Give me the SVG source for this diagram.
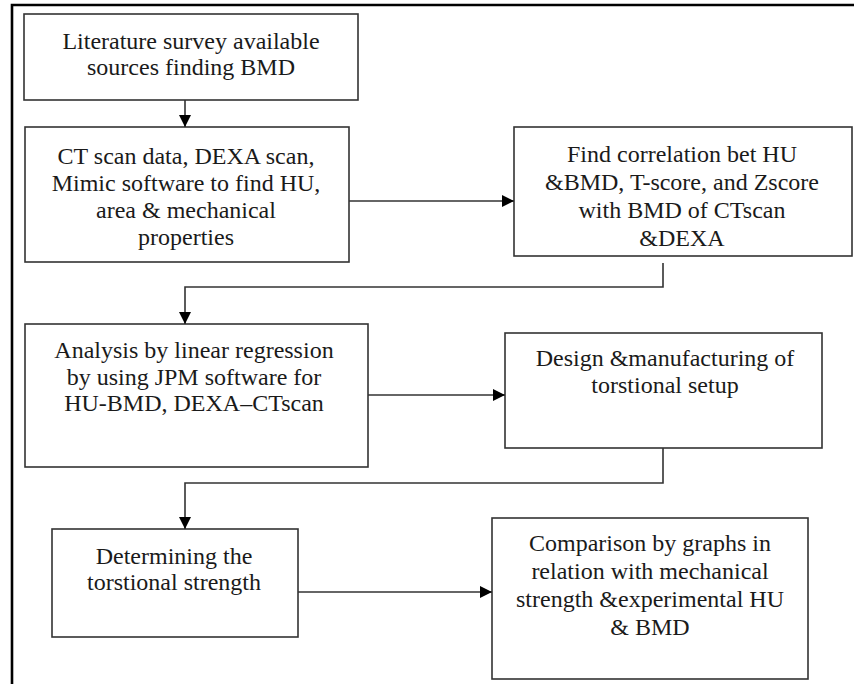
<svg xmlns="http://www.w3.org/2000/svg" width="854" height="684" viewBox="0 0 854 684">
<style>
.box{fill:#fff;stroke:#333;stroke-width:1.6}
.t{font-family:"Liberation Serif","Times New Roman",serif;font-size:24px;fill:#1a1a1a;text-anchor:middle}
.c{fill:none;stroke:#333;stroke-width:1.6}
.frame{stroke:#000;stroke-width:2.6;fill:none}
</style>
<defs>
<marker id="ah" viewBox="0 0 12 12" refX="12" refY="6" markerWidth="12" markerHeight="12" markerUnits="userSpaceOnUse" orient="auto">
<path d="M0,0 L12,6 L0,12 Z" fill="#000"/>
</marker>
</defs>
<rect width="854" height="684" fill="#fff"/>
<path class="frame" d="M12,684 V5 H854"/>
<g id="n1">
<rect class="box" x="24" y="14" width="334" height="86"/>
<text class="t" x="191" y="48.5">Literature survey available</text>
<text class="t" x="191" y="74.5">sources finding BMD</text>
</g>
<g id="n2">
<rect class="box" x="25" y="127" width="324" height="135"/>
<text class="t" x="186" y="164">CT scan data, DEXA scan,</text>
<text class="t" x="186" y="191">Mimic software to find HU,</text>
<text class="t" x="186" y="218">area &amp; mechanical</text>
<text class="t" x="186" y="245">properties</text>
</g>
<g id="n3">
<rect class="box" x="514" y="127" width="338" height="129"/>
<text class="t" x="682" y="162">Find correlation bet HU</text>
<text class="t" x="682" y="190">&amp;BMD, T-score, and Zscore</text>
<text class="t" x="682" y="218">with BMD of CTscan</text>
<text class="t" x="682" y="246">&amp;DEXA</text>
</g>
<g id="n4">
<rect class="box" x="25" y="324" width="343" height="143"/>
<text class="t" x="194" y="358">Analysis by linear regression</text>
<text class="t" x="194" y="384.5">by using JPM software for</text>
<text class="t" x="194" y="411">HU-BMD, DEXA–CTscan</text>
</g>
<g id="n5">
<rect class="box" x="505" y="333" width="317" height="115"/>
<text class="t" x="665" y="366">Design &amp;manufacturing of</text>
<text class="t" x="665" y="393">torstional setup</text>
</g>
<g id="n6">
<rect class="box" x="52" y="529" width="246" height="108"/>
<text class="t" x="174" y="564">Determining the</text>
<text class="t" x="174" y="590">torstional strength</text>
</g>
<g id="n7">
<rect class="box" x="492" y="518" width="316" height="161"/>
<text class="t" x="650" y="551">Comparison by graphs in</text>
<text class="t" x="650" y="579">relation with mechanical</text>
<text class="t" x="650" y="607">strength &amp;experimental HU</text>
<text class="t" x="650" y="635">&amp; BMD</text>
</g>
<g id="connectors">
<path class="c" d="M185,100 V127" marker-end="url(#ah)"/>
<path class="c" d="M349,201 H514" marker-end="url(#ah)"/>
<path class="c" d="M663,263 V287 H185 V324" marker-end="url(#ah)"/>
<path class="c" d="M368,395 H505" marker-end="url(#ah)"/>
<path class="c" d="M663,448 V483 H185 V529" marker-end="url(#ah)"/>
<path class="c" d="M298,592 H492" marker-end="url(#ah)"/>
</g>
</svg>
